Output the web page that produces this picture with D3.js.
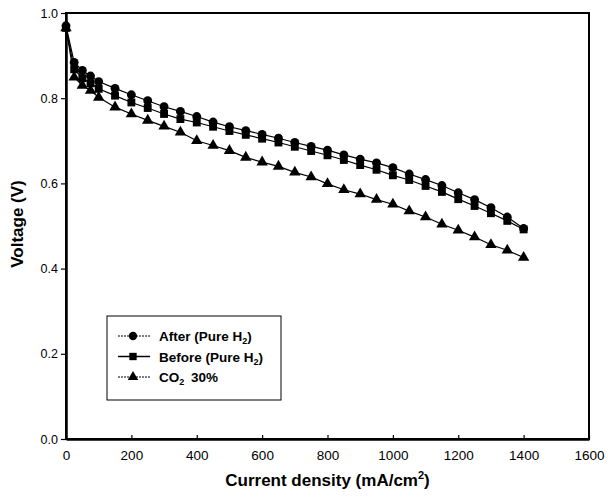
<!DOCTYPE html>
<html>
<head>
<meta charset="utf-8">
<script src="https://cdn.jsdelivr.net/npm/d3@7"></script>
<style>
  body { margin: 0; background: #fff; }
  svg { font-family: "Liberation Sans", Arial, sans-serif; }
</style>
</head>
<body>
<svg id="chart"></svg>
<script>
// current density (mA/cm2)
const current = [0, 25, 50, 75, 100, 150, 200, 250, 300, 350, 400, 450, 500, 550, 600, 650,
  700, 750, 800, 850, 900, 950, 1000, 1050, 1100, 1150, 1200, 1250, 1300, 1350, 1400];

// voltage (V)
const afterPure = [0.970, 0.884, 0.865, 0.852, 0.839, 0.823, 0.808, 0.794, 0.780, 0.769, 0.757,
  0.744, 0.733, 0.724, 0.715, 0.706, 0.696, 0.687, 0.678, 0.667, 0.657, 0.648, 0.637, 0.622,
  0.609, 0.595, 0.578, 0.562, 0.543, 0.521, 0.494];
const beforePure = [0.965, 0.868, 0.847, 0.835, 0.822, 0.806, 0.790, 0.777, 0.763, 0.751, 0.743,
  0.733, 0.723, 0.714, 0.705, 0.696, 0.686, 0.676, 0.666, 0.655, 0.643, 0.632, 0.619, 0.608,
  0.594, 0.580, 0.563, 0.547, 0.530, 0.512, 0.492];
const co2 = [0.965, 0.849, 0.830, 0.818, 0.802, 0.779, 0.763, 0.748, 0.734, 0.720, 0.700,
  0.689, 0.677, 0.661, 0.650, 0.640, 0.626, 0.615, 0.599, 0.585, 0.575, 0.562, 0.551, 0.535,
  0.521, 0.504, 0.490, 0.474, 0.456, 0.443, 0.426];

const xTicks = [0, 200, 400, 600, 800, 1000, 1200, 1400, 1600];
const yTicks = [0.0, 0.2, 0.4, 0.6, 0.8, 1.0];

const seriesNames = ["After (Pure H2)", "Before (Pure H2)", "CO2  30%"];
const seriesValues = [afterPure, beforePure, co2];
const seriesSymbols = [d3.symbolCircle, d3.symbolSquare, d3.symbolTriangle];

const W = 608, H = 500;
const margin = {top: 13, right: 19, bottom: 61, left: 66};
const width = W - margin.left - margin.right;
const height = H - margin.top - margin.bottom;

const svg = d3.select("#chart").attr("width", W).attr("height", H);
const g = svg.append("g").attr("transform", `translate(${margin.left},${margin.top})`);

const x = d3.scaleLinear().domain([0, 1600]).range([0, width]);
const y = d3.scaleLinear().domain([0, 1]).range([height, 0]);

// frame
g.append("rect")
  .attr("width", width).attr("height", height)
  .attr("fill", "none").attr("stroke", "#000").attr("stroke-width", 2);

// axes
const xAxis = g.append("g").attr("transform", `translate(0,${height})`)
  .call(d3.axisBottom(x).tickValues(xTicks).tickFormat(d3.format("d")).tickSizeInner(-4).tickSizeOuter(0).tickPadding(11.5));
const yAxis = g.append("g")
  .call(d3.axisLeft(y).tickValues(yTicks).tickFormat(d3.format(".1f")).tickSizeInner(5).tickSizeOuter(0).tickPadding(3));

[xAxis, yAxis].forEach(a => {
  a.select(".domain").attr("stroke-width", 2.5);
  a.selectAll("text").attr("fill", "#000");
  a.selectAll(".tick line").attr("stroke-width", 1.2);
});
xAxis.selectAll("text").attr("font-size", 13.5);
yAxis.selectAll("text").attr("font-size", 12.5);

// lines and markers
const line = d3.line().x((d, i) => x(current[i])).y(d => y(d));

seriesValues.forEach((vals, s) => {
  g.append("path")
    .datum(vals)
    .attr("fill", "none")
    .attr("stroke", "#000")
    .attr("stroke-width", 1.2)
    .attr("d", line);
});

seriesValues.forEach((vals, s) => {
  const sym = d3.symbol().type(seriesSymbols[s]).size(s === 2 ? 56 : 62);
  g.append("g").selectAll("path")
    .data(vals)
    .join("path")
    .attr("transform", (d, i) => `translate(${x(current[i])},${y(d)})`)
    .attr("d", sym)
    .attr("fill", "#000");
});

// axis titles
svg.append("text")
  .attr("x", margin.left + width / 2)
  .attr("y", 486)
  .attr("text-anchor", "middle")
  .attr("font-weight", "bold")
  .attr("font-size", 17)
  .call(t => {
    t.append("tspan").text("Current density (mA/cm");
    t.append("tspan").attr("dy", -7).attr("font-size", 11).text("2");
    t.append("tspan").attr("dy", 7).text(")");
  });

svg.append("text")
  .attr("transform", `translate(23,224) rotate(-90)`)
  .attr("text-anchor", "middle")
  .attr("font-weight", "bold")
  .attr("font-size", 17)
  .text("Voltage (V)");

// legend
const legend = svg.append("g").attr("transform", "translate(107,316)");
legend.append("rect")
  .attr("width", 174).attr("height", 84)
  .attr("fill", "#fff").attr("stroke", "#000").attr("stroke-width", 1);

const legendDash = ["2,1", null, "2,1"];
seriesNames.forEach((name, s) => {
  const row = legend.append("g").attr("transform", `translate(0,${20 + s * 20.5})`);
  row.append("line")
    .attr("x1", 11).attr("x2", 43)
    .attr("stroke", "#000").attr("stroke-width", s === 1 ? 1.5 : 1)
    .attr("stroke-dasharray", legendDash[s]);
  row.append("path")
    .attr("transform", "translate(26,0)")
    .attr("d", d3.symbol().type(seriesSymbols[s]).size(s === 2 ? 48 : 54))
    .attr("fill", "#000");
  const t = row.append("text")
    .attr("x", 52).attr("y", 5)
    .attr("font-weight", "bold").attr("font-size", 13.5);
  if (s < 2) {
    t.append("tspan").text(name.replace("H2)", "H"));
    t.append("tspan").attr("dy", 3).attr("font-size", 9).text("2");
    t.append("tspan").attr("dy", -3).text(")");
  } else {
    t.append("tspan").text("CO");
    t.append("tspan").attr("dy", 3).attr("font-size", 9).text("2");
    t.append("tspan").attr("dy", -3).attr("x", 84).text("30%");
  }
});
</script>
</body>
</html>
